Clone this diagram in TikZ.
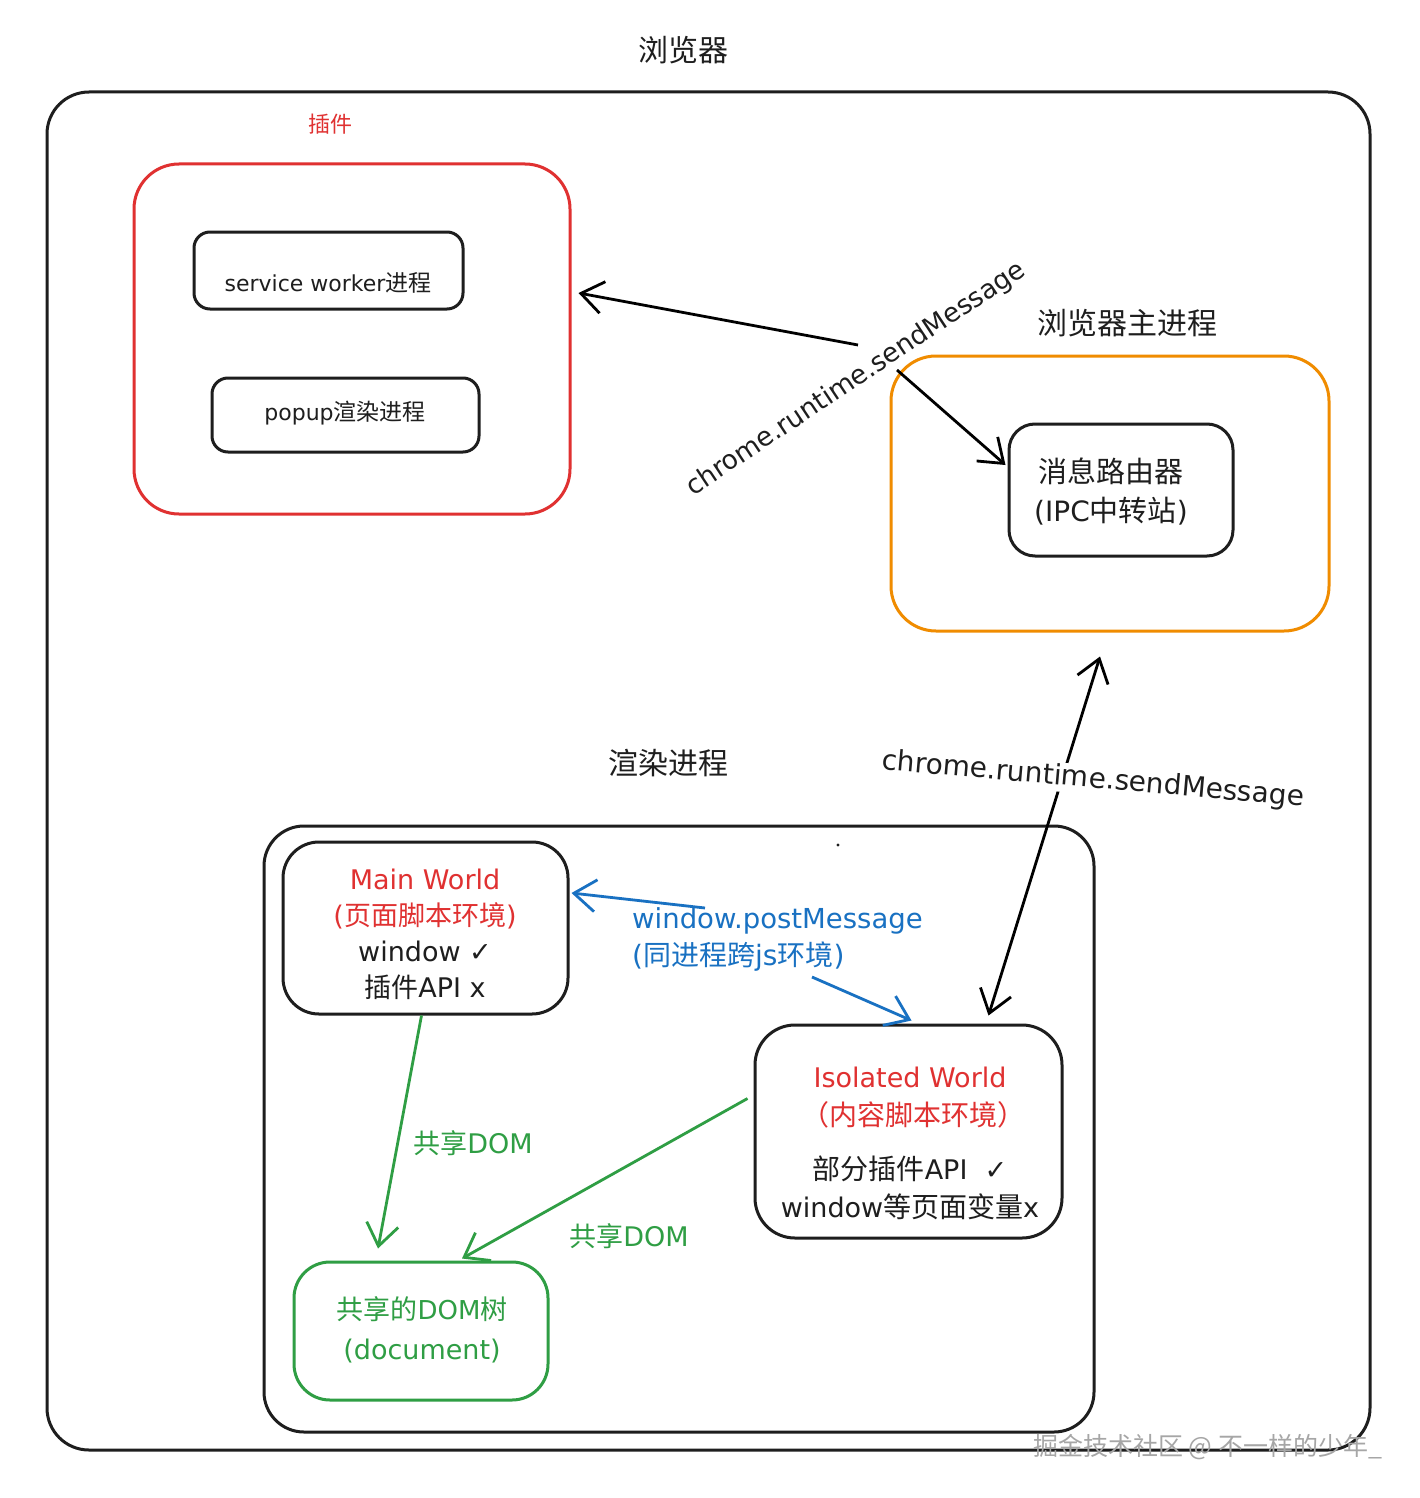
\documentclass[tikz,border=0pt]{standalone}
\usepackage{fontspec}
\setmainfont{Noto Sans CJK SC}
\newfontfamily\symf{DejaVu Sans}
\newfontfamily\lat{DejaVu Sans}
\usetikzlibrary{arrows.meta}
\definecolor{xred}{HTML}{E03131}
\definecolor{xorange}{HTML}{F08C00}
\definecolor{xgreen}{HTML}{2F9E44}
\definecolor{xblue}{HTML}{1971C2}
\definecolor{xblack}{HTML}{1E1E1E}
\newcommand{\fs}[1]{\fontsize{#1}{#1}\selectfont}
\tikzset{
  bx/.style={draw=xblack, line width=3pt, rounded corners=#1, inner sep=0pt},
  bx/.default=20pt,
  arr/.style={line width=2.8pt, -{Straight Barb[length=22pt,width=32pt,line width=2.8pt]}},
  darr/.style={line width=2.8pt, {Straight Barb[length=22pt,width=32pt,line width=2.8pt]}-{Straight Barb[length=22pt,width=32pt,line width=2.8pt]}},
  lbl/.style={inner sep=0pt, text=xblack}
}
\begin{document}
\begin{tikzpicture}[x=1pt,y=-1pt]
\useasboundingbox[fill=white] (0,0) rectangle (1420,1498);
% title
\node[lbl, font=\fs{30}] (title) at (683,50) {浏览器};
% outer
\node[bx=42pt, minimum width=1323pt, minimum height=1358pt] (outer) at (708.5,771) {};
% plugin
\node[lbl, text=xred, font=\fs{22}] (pluglbl) at (330,124) {插件};
\node[bx=45pt, draw=xred, minimum width=436pt, minimum height=350pt] (red) at (352,339) {};
\node[bx=16pt, minimum width=269pt, minimum height=77pt] (sw) at (328.5,270.5) {};
\node[lbl, font=\fs{23}] (swt) at (328,283) {{\lat\fontsize{22}{22}\selectfont service worker}进程};
\node[bx=16pt, minimum width=267pt, minimum height=74pt] (popup) at (345.5,415) {};
\node[lbl, font=\fs{23}] (popt) at (345,413) {{\lat\fontsize{22}{22}\selectfont popup}渲染进程};
% browser main process
\node[lbl, font=\fs{30}] (mainlbl) at (1127,323) {浏览器主进程};
\node[bx=45pt, draw=xorange, minimum width=438pt, minimum height=275pt] (orange) at (1110,493.5) {};
\node[bx=26pt, minimum width=224pt, minimum height=132pt] (router) at (1121,490) {};
\node[lbl, align=center, font=\fontsize{29}{39}\selectfont] (routert) at (1111,492) {消息路由器\\{\lat\fontsize{28}{28}\selectfont (IPC}中转站{\lat\fontsize{28}{28}\selectfont )}};
% arrows from label
\coordinate (c1) at (858,345);
\coordinate (c2) at (897,370);
\draw[arr] (c1) -- ([xshift=7pt,yshift=46pt]red.east);
\draw[arr] (c2) -- ([xshift=-2pt,yshift=25pt]router.west);
\node[lbl, rotate=33.6, font=\lat\fs{26.5}] (rt1) at (856,379) {chrome.runtime.sendMessage};
% render process
\node[lbl, font=\fs{30}] (renderlbl) at (668,763) {渲染进程};
\node[bx=40pt, minimum width=830pt, minimum height=606pt] (render) at (679,1129) {};
\fill[xblack] (838,845) circle (1.6pt);
% main world
\node[bx=36pt, minimum width=285pt, minimum height=172pt] (mw) at (425.5,928) {};
\node[lbl, align=center, font=\fontsize{27}{36}\selectfont] (mwt) at (425,934)
  {\textcolor{xred}{\lat Main World}\\\textcolor{xred}{{\lat (}页面脚本环境{\lat )}}\\{\lat window ✓}\\插件{\lat API x}};
% isolated world
\node[bx=40pt, minimum width=307pt, minimum height=213pt] (iso) at (908.5,1131.5) {};
\node[lbl, align=center, font=\fontsize{28}{38}\selectfont] (isot) at (910,1143)
  {\textcolor{xred}{\lat\fontsize{27}{27}\selectfont Isolated World}\\\textcolor{xred}{\ （内容脚本环境）}\\[16pt]部分插件{\lat\fontsize{27}{27}\selectfont API\ \ ✓}\\{\lat\fontsize{27}{27}\selectfont window}等页面变量{\lat\fontsize{27}{27}\selectfont x}};
% shared dom
\node[bx=36pt, draw=xgreen, minimum width=254pt, minimum height=138pt] (dom) at (421,1331) {};
\node[lbl, text=xgreen, align=center, font=\fontsize{27}{40}\selectfont] (domt) at (422,1330)
  {共享的{\lat\fontsize{26}{26}\selectfont DOM}树\\{\lat\fontsize{27}{27}\selectfont (document)}};
% blue arrows
\coordinate (b1) at (705,908);
\coordinate (b2) at (812,977);
\draw[arr, draw=xblue] (b1) -- ([xshift=2pt,yshift=35pt]mw.east);
\draw[arr, draw=xblue] (b2) -- ([xshift=3pt,yshift=3pt]iso.north);
\node[lbl, text=xblue, anchor=west, align=left, font=\fontsize{28}{37}\selectfont] (pm) at (632,939) {{\lat\fontsize{27.5}{27.5}\selectfont window.postMessage}\\{\lat\fontsize{28}{28}\selectfont (}同进程跨{\lat\fontsize{28}{28}\selectfont js}环境{\lat\fontsize{28}{28}\selectfont )}};
% green arrows
\draw[arr, draw=xgreen] ([xshift=-4pt]mw.south) -- ([xshift=-43pt,yshift=12pt]dom.north);
\node[lbl, text=xgreen, font=\fs{27}] (sd1) at (473,1143) {共享{\lat\fontsize{27}{27}\selectfont DOM}};
\draw[arr, draw=xgreen] ([xshift=-6pt,yshift=33pt]iso.west) -- ([xshift=41pt,yshift=2pt]dom.north);
\node[lbl, text=xgreen, font=\fs{27}] (sd2) at (629,1236) {共享{\lat\fontsize{27}{27}\selectfont DOM}};
% double arrow
\draw[darr] ([xshift=80pt,yshift=8pt]iso.north) -- ([xshift=-10pt,yshift=-24pt]orange.south);
\node[lbl, rotate=-5, font=\lat\fs{28}, fill=white, inner sep=1pt] (rt2) at (1093,780) {chrome.runtime.sendMessage};
% watermark
\node[lbl, text=gray!70, font=\fs{25}, anchor=west] (wm) at (1033,1447) {掘金技术社区 @ 不一样的少年\_};
\end{tikzpicture}
\end{document}
